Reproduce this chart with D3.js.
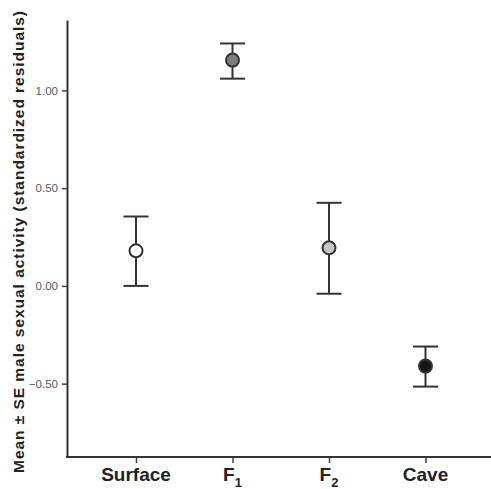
<!DOCTYPE html>
<html>
<head>
<meta charset="utf-8">
<script src="https://cdn.jsdelivr.net/npm/d3@7"></script>
<style>
  body { margin: 0; background: #fff; }
  svg { display: block; }
</style>
</head>
<body>
<div id="chart"></div>
<script>
// Groups and their mean ± SE values (standardized residuals)
const groups = ["Surface", "F1", "F2", "Cave"];
const means = [0.18, 1.155, 0.195, -0.41];
const upper = [0.355, 1.24, 0.425, -0.31];
const lower = [0.0, 1.06, -0.04, -0.515];
const fills = ["#ffffff", "#7c7c7c", "#c4c4c4", "#151515"];
const yTicks = [-0.5, 0, 0.5, 1.0];

const width = 491, height = 489;
const axisX = 67, axisBottom = 457, axisTop = 20;

const svg = d3.select("#chart").append("svg")
    .attr("width", width)
    .attr("height", height);

const x = d3.scalePoint()
    .domain(groups)
    .range([136, 425.5]);

const y = d3.scaleLinear()
    .domain([-0.875, 1.36])
    .range([axisBottom, axisTop]);

// Y axis
const yAxis = svg.append("g")
    .attr("transform", `translate(${axisX},0)`)
    .call(d3.axisLeft(y).tickValues(yTicks).tickFormat(d3.format(".2f")).tickSize(5).tickSizeOuter(0));
yAxis.select(".domain").attr("stroke", "#333").attr("stroke-width", 2);
yAxis.selectAll(".tick line").attr("stroke", "#444").attr("stroke-width", 1.5);
yAxis.selectAll(".tick text")
    .attr("x", -9)
    .attr("fill", "#5a5a5a")
    .style("font-family", "Liberation Sans, Arial, sans-serif")
    .style("font-size", "11.5px");

// X axis
const xAxis = svg.append("g")
    .attr("transform", `translate(0,${axisBottom})`)
    .call(d3.axisBottom(x).tickSize(6).tickSizeOuter(0).tickFormat(""));
xAxis.select(".domain").remove();
xAxis.append("line")
    .attr("x1", axisX - 1).attr("x2", width)
    .attr("stroke", "#333").attr("stroke-width", 2);
xAxis.selectAll(".tick line").attr("stroke", "#444").attr("stroke-width", 1.5);

// X tick labels with subscripts for F1/F2
const labels = svg.append("g")
    .style("font-family", "Liberation Sans, Arial, sans-serif")
    .style("font-weight", "bold")
    .attr("fill", "#222");
groups.forEach(g => {
    const t = labels.append("text")
        .attr("x", x(g))
        .attr("y", 481)
        .attr("text-anchor", "middle")
        .style("font-size", "19px");
    if (g[0] === "F" && g.length === 2) {
        t.append("tspan").text("F");
        t.append("tspan").attr("dy", 6).style("font-size", "13px").text(g[1]);
    } else {
        t.text(g);
    }
});

// Y axis title
svg.append("text")
    .attr("transform", "translate(24,242) rotate(-90)")
    .attr("text-anchor", "middle")
    .attr("textLength", 462)
    .attr("lengthAdjust", "spacing")
    .attr("fill", "#222")
    .style("font-family", "Liberation Sans, Arial, sans-serif")
    .style("font-weight", "bold")
    .style("font-size", "15.5px")
    .text("Mean \u00b1 SE male sexual activity (standardized residuals)");

// Error bars
const bars = svg.append("g").attr("stroke", "#333").attr("stroke-width", 2);
groups.forEach((g, i) => {
    const cx = x(g);
    bars.append("line").attr("x1", cx).attr("x2", cx).attr("y1", y(upper[i])).attr("y2", y(lower[i]));
    bars.append("line").attr("x1", cx - 12.5).attr("x2", cx + 12.5).attr("y1", y(upper[i])).attr("y2", y(upper[i]));
    bars.append("line").attr("x1", cx - 12.5).attr("x2", cx + 12.5).attr("y1", y(lower[i])).attr("y2", y(lower[i]));
});

// Mean points
svg.append("g").selectAll("circle")
    .data(groups)
    .enter()
    .append("circle")
    .attr("cx", d => x(d))
    .attr("cy", (d, i) => y(means[i]))
    .attr("r", 6.5)
    .attr("fill", (d, i) => fills[i])
    .attr("stroke", "#333")
    .attr("stroke-width", 2);
</script>
</body>
</html>
